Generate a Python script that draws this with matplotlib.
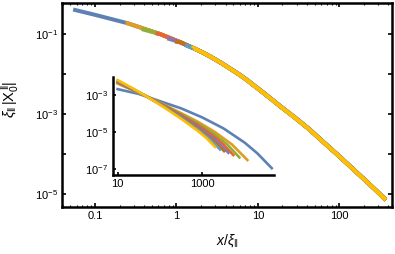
import matplotlib
matplotlib.use("Agg")
import matplotlib.pyplot as plt
from matplotlib.ticker import FixedLocator, FixedFormatter, NullFormatter, LogLocator

plt.rcParams["font.family"] = ["Liberation Sans", "DejaVu Sans"]
plt.rcParams["mathtext.fontset"] = "custom"
plt.rcParams["mathtext.rm"] = "Liberation Sans"
plt.rcParams["mathtext.it"] = "Liberation Sans:italic"

COLORS = ["#5E81B5", "#E19C24", "#8FB032", "#EB6235",
          "#8778B3", "#C56E1A", "#5D9EC7", "#FFBF00"]

# main panel: collapsed curve
MAIN_X = [0.054, 0.1, 0.247, 0.628, 1.10, 1.59, 2.1, 2.8, 3.6, 4.5, 5.8,
          7.3, 12, 18.6, 28, 43.5, 65, 98.6, 140, 200, 280, 371]
MAIN_Y = [0.41, 0.302, 0.188, 0.100, 0.063, 0.045, 0.0345, 0.025, 0.0185,
          0.0138, 0.0099, 0.0071, 0.00324, 0.00158, 8.3e-4, 4.0e-4, 1.9e-4,
          8.9e-5, 4.6e-5, 2.35e-5, 1.24e-5, 7.1e-6]
# blue lies a hair above the others in the tail
MAIN_BLUE_Y = [0.41, 0.302, 0.188, 0.100, 0.063, 0.045, 0.0348, 0.0254,
               0.0188, 0.0141, 0.0101, 0.00726, 0.00332, 0.00162, 8.5e-4,
               4.1e-4, 1.95e-4, 9.1e-5, 4.7e-5, 2.4e-5, 1.26e-5, 7.15e-6]
# where each of the other curves begins in the main panel
START_X = [0.238, 0.374, 0.556, 0.771, 0.959, 1.27, 1.58]
START_Y = [0.185, 0.133, 0.104, 0.078, 0.0645, 0.053, 0.044]

# inset: raw curves
INSET_BLUE_X = [10, 31.6, 100, 316, 1000, 3162, 10000, 19950, 43650]
INSET_BLUE_Y = [2.09e-3, 1.15e-3, 4.68e-4, 1.91e-4, 6.17e-5, 1.58e-5,
                2.69e-6, 7.08e-7, 1.12e-7]

ORANGE_X = [10, 22.4, 49.0, 126, 316, 794, 1995, 5012, 11590]
ORANGE_Y = [4.17e-3, 1.86e-3, 8.32e-4, 3.02e-4, 1.05e-4, 3.55e-5, 1.0e-5,
            2.14e-6, 3.09e-7]
GREEN_X = [10, 22.4, 49.0, 126, 316, 794, 1995, 3981, 7499]
GREEN_Y = [4.47e-3, 1.95e-3, 8.32e-4, 2.85e-4, 9.33e-5, 2.95e-5, 7.41e-6,
           2.0e-6, 4.27e-7]
RED_X = [10, 22.4, 49.0, 126, 316, 794, 1995, 3162, 5408]
RED_Y = [4.79e-3, 2.0e-3, 8.32e-4, 2.69e-4, 8.32e-5, 2.40e-5, 5.37e-6,
         2.09e-6, 5.75e-7]
PURPLE_X = [10, 22.4, 49.0, 126, 316, 794, 1995, 4121]
PURPLE_Y = [5.19e-3, 2.09e-3, 8.32e-4, 2.54e-4, 7.41e-5, 2.0e-5, 3.98e-6,
            7.59e-7]
BROWN_X = [10, 22.4, 49.0, 126, 316, 794, 1995, 3258]
BROWN_Y = [5.62e-3, 2.19e-3, 8.32e-4, 2.40e-4, 6.61e-5, 1.66e-5, 2.95e-6,
           9.33e-7]
LIGHTBLUE_X = [10, 22.4, 49.0, 126, 316, 794, 1585, 2618]
LIGHTBLUE_Y = [6.03e-3, 2.24e-3, 8.32e-4, 2.26e-4, 5.89e-5, 1.35e-5,
               3.72e-6, 1.15e-6]
YELLOW_X = [10, 22.4, 49.0, 126, 316, 794, 1259, 1995]
YELLOW_Y = [6.46e-3, 2.34e-3, 8.32e-4, 2.14e-4, 5.25e-5, 1.12e-5, 4.68e-6,
            1.58e-6]

INSET_CURVES = [
    (INSET_BLUE_X, INSET_BLUE_Y),
    (ORANGE_X, ORANGE_Y),
    (GREEN_X, GREEN_Y),
    (RED_X, RED_Y),
    (PURPLE_X, PURPLE_Y),
    (BROWN_X, BROWN_Y),
    (LIGHTBLUE_X, LIGHTBLUE_Y),
    (YELLOW_X, YELLOW_Y),
]

fig = plt.figure(figsize=(3.95, 2.54), dpi=100)

# ---- main panel ----
ax = fig.add_axes([0.157, 0.186, 0.835, 0.801])
ax.set_xscale("log")
ax.set_yscale("log")

ax.plot(MAIN_X, MAIN_BLUE_Y, color=COLORS[0], lw=2.9, solid_capstyle="butt")
for i, (x0, y0) in enumerate(zip(START_X, START_Y)):
    xs = [x0] + [x for x in MAIN_X if x > x0]
    ys = [y0] + [y for x, y in zip(MAIN_X, MAIN_Y) if x > x0]
    ax.plot(xs, ys, color=COLORS[i + 1], lw=2.9, solid_capstyle="butt")

ax.set_xlim(0.0394, 440)
ax.set_ylim(4.8e-6, 0.586)

ax.xaxis.set_major_locator(FixedLocator([0.1, 1, 10, 100]))
ax.xaxis.set_major_formatter(FixedFormatter(["0.1", "1", "10", "100"]))
ax.xaxis.set_minor_locator(LogLocator(base=10, subs=range(2, 10), numticks=20))
ax.xaxis.set_minor_formatter(NullFormatter())
ax.yaxis.set_major_locator(FixedLocator([1e-1, 1e-2, 1e-3, 1e-4, 1e-5]))
ax.yaxis.set_major_formatter(FixedFormatter(
    [r"$10^{-1}$", "", r"$10^{-3}$", "", r"$10^{-5}$"]))
ax.yaxis.set_minor_locator(FixedLocator([]))

ax.tick_params(which="both", direction="in", top=True, right=True,
               labelsize=8, colors="black", width=1.2, pad=3)
ax.tick_params(which="major", length=3)
ax.tick_params(which="minor", length=1.5, width=0.8)
for sp in ax.spines.values():
    sp.set_linewidth(1.8)

ax.set_xlabel(r"$x/\xi_{\|}$", fontsize=10)
ax.xaxis.set_label_coords(0.5, -0.125)
ax.set_ylabel(r"$\xi_{\|}\,|\mathrm{X}_0^{\,\|}|$", fontsize=10.5)
ax.yaxis.set_label_coords(-0.125, 0.53)

# ---- inset ----
ins = fig.add_axes([0.285, 0.311, 0.409, 0.387])
ins.set_facecolor("none")
ins.set_xscale("log")
ins.set_yscale("log")
for i, (xs, ys) in enumerate(INSET_CURVES):
    ins.plot(xs, ys, color=COLORS[i], lw=1.9)

ins.set_xlim(7.6, 49600)
ins.set_ylim(4.8e-8, 9.8e-3)
ins.spines["top"].set_visible(False)
ins.spines["right"].set_visible(False)
for side in ("left", "bottom"):
    ins.spines[side].set_linewidth(1.8)

ins.xaxis.set_major_locator(FixedLocator([10, 1000]))
ins.xaxis.set_major_formatter(FixedFormatter(["10", "1000"]))
ins.xaxis.set_minor_locator(FixedLocator([]))
ins.yaxis.set_major_locator(FixedLocator([1e-3, 1e-5, 1e-7]))
ins.yaxis.set_major_formatter(FixedFormatter(
    [r"$10^{-3}$", r"$10^{-5}$", r"$10^{-7}$"]))
ins.yaxis.set_minor_locator(FixedLocator([]))
ins.tick_params(which="both", direction="in", labelsize=8, length=2.5,
                width=1.2, pad=3)

fig.savefig("out.png", dpi=100)
